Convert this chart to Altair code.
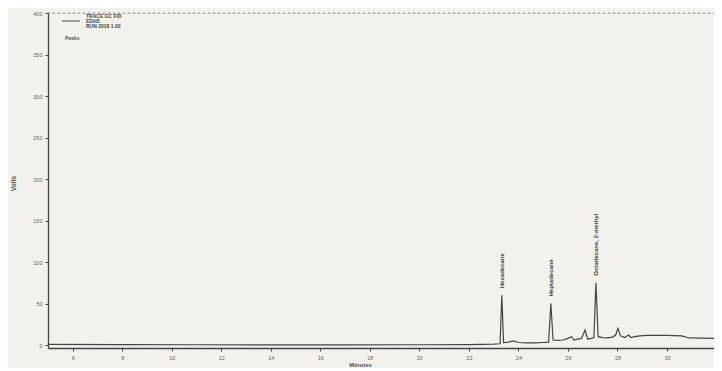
import altair as alt
import pandas as pd

# chromatogram trace (minutes, signal)
times = [5.0, 8.0, 11.0, 14.0, 17.0, 20.0, 22.0, 23.0, 23.26, 23.33, 23.40, 23.6, 23.8, 24.0,
         24.3, 24.7, 25.0, 25.22, 25.31, 25.40, 25.6, 25.8, 26.0, 26.15, 26.25, 26.4, 26.55,
         26.69, 26.8, 26.95, 27.05, 27.13, 27.22, 27.4, 27.6, 27.8, 27.93, 28.02, 28.12, 28.3,
         28.45, 28.55, 28.7, 28.9, 29.2, 30.0, 30.6, 30.9, 31.9]
signal = [0.8, 0.5, 0.3, 0.2, 0.2, 0.3, 0.5, 1.0, 1.5, 60, 3.0, 3.5, 5.0, 3.0,
          2.5, 2.5, 3.0, 3.5, 50, 6.0, 5.5, 6.0, 8.0, 10.0, 6.0, 7.0, 8.0,
          18.0, 7.0, 8.0, 9.0, 75, 10.0, 9.0, 8.5, 9.5, 12.0, 20.0, 11.0, 9.0,
          12.0, 9.0, 10.0, 11.0, 11.5, 11.5, 11.0, 8.5, 8.0]

# labelled peaks
peak_times = [23.33, 25.31, 27.13]
peak_heights = [60, 50, 75]
peak_names = ["Hexadecane", "Heptadecane", "Octadecane, 2-methyl"]

x_ticks = [6, 8, 10, 12, 14, 16, 18, 20, 22, 24, 26, 28, 30]
y_ticks = [0, 50, 100, 150, 200, 250, 300, 350, 400]

legend_lines = ["TRACE GC FID", "EDHS", "RUN 2018 1.00"]

trace = pd.DataFrame({"t": times, "v": signal})
peaks = pd.DataFrame({"t": peak_times, "v": peak_heights, "name": peak_names})
top = pd.DataFrame({"v": [400]})

FONT = "Liberation Sans"
INK = "#444444"

xscale = alt.Scale(domain=[5, 31.9], nice=False, zero=False)
yscale = alt.Scale(domain=[-3.6, 400], nice=False, zero=False)

xaxis = alt.Axis(values=x_ticks, title="Minutes", grid=False, labelFontSize=5.5,
                 labelColor="#666", tickSize=3, tickColor=INK, domainColor=INK,
                 domainWidth=1.3, labelPadding=4, titleFontSize=6, titleColor="#555",
                 titleX=312, titleY=16, titleBaseline="middle", titleFontWeight="bold")
yaxis = alt.Axis(values=y_ticks, title="Volts", grid=False, labelFontSize=5.5,
                 labelColor="#666", tickSize=3, tickColor=INK, domainColor=INK,
                 domainWidth=1.3, labelPadding=3, titleFontSize=6.5, titleColor="#555",
                 titleX=-32, titleY=170, titleFontWeight="bold")

line = alt.Chart(trace).mark_line(color=INK, strokeWidth=1.2, interpolate="linear").encode(
    x=alt.X("t:Q", scale=xscale, axis=xaxis),
    y=alt.Y("v:Q", scale=yscale, axis=yaxis),
)

toprule = alt.Chart(top).mark_rule(color="#888", strokeDash=[2, 3], strokeWidth=1).encode(
    y=alt.Y("v:Q", scale=yscale, axis=yaxis), x=alt.value(0), x2=alt.value(666)
)

labels = alt.Chart(peaks).mark_text(angle=270, align="left", baseline="middle",
                                    fontSize=6, font=FONT, color="#444", fontWeight="bold",
                                    dx=7).encode(
    x=alt.X("t:Q", scale=xscale, axis=xaxis),
    y=alt.Y("v:Q", scale=yscale, axis=yaxis),
    text="name:N",
)

legend_layers = []
for i, txt in enumerate(legend_lines):
    legend_layers.append(
        alt.Chart(pd.DataFrame({"label": [txt]})).mark_text(
            align="left", baseline="middle", fontSize=5, font=FONT, color="#444",
            fontWeight="bold").encode(x=alt.value(38), y=alt.value(3 + 5 * i), text="label:N")
    )
legend_sample = alt.Chart(pd.DataFrame({"a": [1]})).mark_rule(color=INK, strokeWidth=1).encode(
    x=alt.value(14), x2=alt.value(32), y=alt.value(8)
)
peaks_word = alt.Chart(pd.DataFrame({"label": ["Peaks"]})).mark_text(
    align="left", baseline="middle", fontSize=5, font=FONT, color="#555", fontWeight="bold").encode(
    x=alt.value(17), y=alt.value(25), text="label:N"
)

chart = alt.layer(line, toprule, labels, legend_sample, *legend_layers, peaks_word).properties(
    width=666, height=335,
    autosize=alt.AutoSizeParams(type="none"),
    padding={"left": 40, "top": 5, "right": 0, "bottom": 20},
    background="#f2f1ec",
).configure_view(stroke=None).configure_axis(grid=False).configure(font=FONT)

chart.save("out.html", embed_options={"renderer": "svg", "actions": False})
